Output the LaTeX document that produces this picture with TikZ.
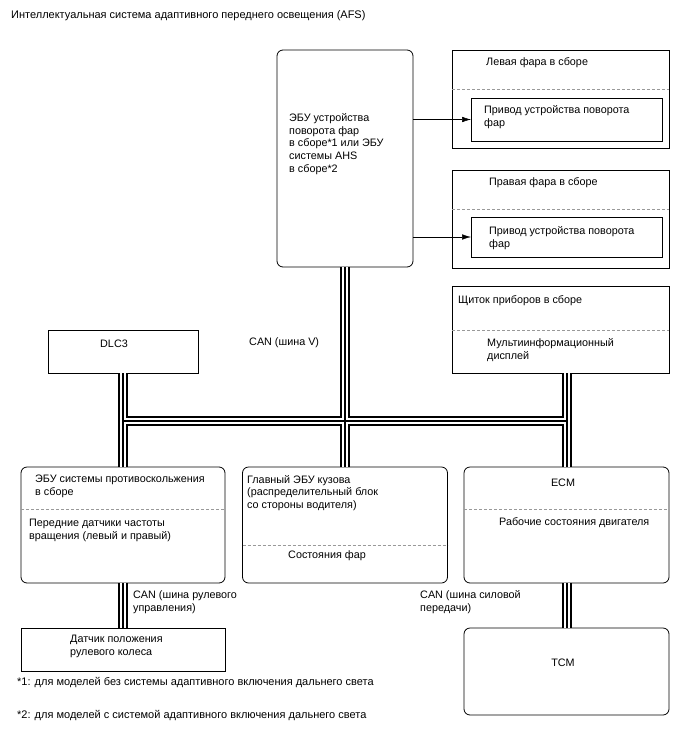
\documentclass[tikz,border=0pt]{standalone}
\usepackage{fontspec}
\setmainfont{Liberation Sans}
\usetikzlibrary{arrows.meta,positioning}

\begin{document}
\begin{tikzpicture}[x=1pt,y=-1pt,font=\fontsize{10.8}{12.8}\selectfont,
    box/.style={draw,line width=.8pt,inner sep=0pt,outer sep=0pt},
    ecubox/.style={box,rounded corners=6pt},
    txt/.style={anchor=west,align=left,inner sep=0pt},
    sep/.style={draw=black!40,dash pattern=on 3pt off 2pt,line width=.7pt},
    arr/.style={-{Latex[length=9pt,width=5.5pt]},line width=.5pt}]
  \useasboundingbox (0,0) rectangle (688,755);
  \node[txt,font=\fontsize{11}{13}\selectfont] (title) at (11,16) {Интеллектуальная система адаптивного переднего освещения (AFS)};
  % steering ECU and headlamps
  \node[ecubox,minimum width=136,minimum height=217] (afsecu) at (345,158.5) {};
  \node[txt] (afsecutxt) at (289,144) {ЭБУ устройства\\поворота фар\\в сборе*1 или ЭБУ\\системы AHS\\в сборе*2};
  \node[box,minimum width=217,minimum height=98] (lhl) at (560.5,99) {};
  \node[box,minimum width=191,minimum height=43] (lact) at (566.5,119.5) {};
  \node[box,minimum width=217,minimum height=98] (rhl) at (560.5,219) {};
  \node[box,minimum width=191,minimum height=40] (ract) at (566.5,237) {};
  \draw[sep] (lhl.west |- 0,89) -- (lhl.east |- 0,89);
  \draw[sep] (rhl.west |- 0,209) -- (rhl.east |- 0,209);
  \node[txt] (lhltxt) at (486,63) {Левая фара в сборе};
  \node[txt] (lacttxt) at (484,117) {Привод устройства поворота\\фар};
  \node[txt] (rhltxt) at (489,183) {Правая фара в сборе};
  \node[txt] (racttxt) at (489,238) {Привод устройства поворота\\фар};
  \draw[arr] (lact.west -| afsecu.east) -- (lact);
  \draw[arr] (ract.west -| afsecu.east) -- (ract);
  % CAN V bus
  \node[box,minimum width=150,minimum height=43] (dlc) at (123,351.5) {};
  \node[txt] (dlctxt) at (100,344) {DLC3};
  \node[txt] (canv) at (249,343) {CAN (шина V)};
  \node[box,minimum width=217,minimum height=87] (meter) at (560.5,329.5) {};
  \draw[sep] (meter.west |- 0,330) -- (meter.east |- 0,330);
  \node[txt] (metertxt) at (458,301) {Щиток приборов в сборе};
  \node[txt] (mid) at (487,350) {Мультиинформационный\\дисплей};
  % lower ECUs
  \node[ecubox,minimum width=204,minimum height=116] (abs) at (123,525) {};
  \node[ecubox,minimum width=205,minimum height=116] (body) at (345,525) {};
  \node[ecubox,minimum width=205,minimum height=116] (ecm) at (566.5,525) {};
  \node[ecubox,minimum width=205,minimum height=87] (tcm) at (566.5,671.5) {};
  \node[box,minimum width=204,minimum height=43] (sensor) at (123,649.5) {};
  \draw[sep] (abs.west |- 0,509) -- (abs.east |- 0,509);
  \draw[sep] (body.west |- 0,545) -- (body.east |- 0,545);
  \draw[sep] (ecm.west |- 0,509) -- (ecm.east |- 0,509);
  \node[txt] (abstxt) at (35,486.5) {ЭБУ системы противоскольжения\\в сборе};
  \node[txt] (speed) at (29,530) {Передние датчики частоты\\вращения (левый и правый)};
  \node[txt] (bodytxt) at (247,493) {Главный ЭБУ кузова\\(распределительный блок\\со стороны водителя)};
  \node[txt] (lampst) at (288,556) {Состояния фар};
  \node (ecmtxt) at (563,483) {ECM};
  \node[txt] (engst) at (499,523) {Рабочие состояния двигателя};
  \node (tcmtxt) at (563,663) {TCM};
  \node[txt] (sensortxt) at (70,646.5) {Датчик положения\\рулевого колеса};
  \node[txt] (cansteer) at (133,602) {CAN (шина рулевого\\управления)};
  \node[txt] (canpt) at (420,602) {CAN (шина силовой\\передачи)};
  % buses
  \foreach \w/\c in {10/black,6/white,2/black}
    \draw[line width=\w pt,\c] (dlc) -- (abs) (afsecu) -- (body)
      (ecm.north |- meter.south) -- (ecm) (abs) -- (sensor) (ecm) -- (tcm)
      (abs.north |- 0,421) -- (ecm.north |- 0,421);
  \node[txt,font=\fontsize{11}{13}\selectfont] (note1) at (17,683) {*1: для моделей без системы адаптивного включения дальнего света};
  \node[txt,font=\fontsize{11}{13}\selectfont] (note2) at (17,716) {*2: для моделей с системой адаптивного включения дальнего света};
\end{tikzpicture}
\end{document}
